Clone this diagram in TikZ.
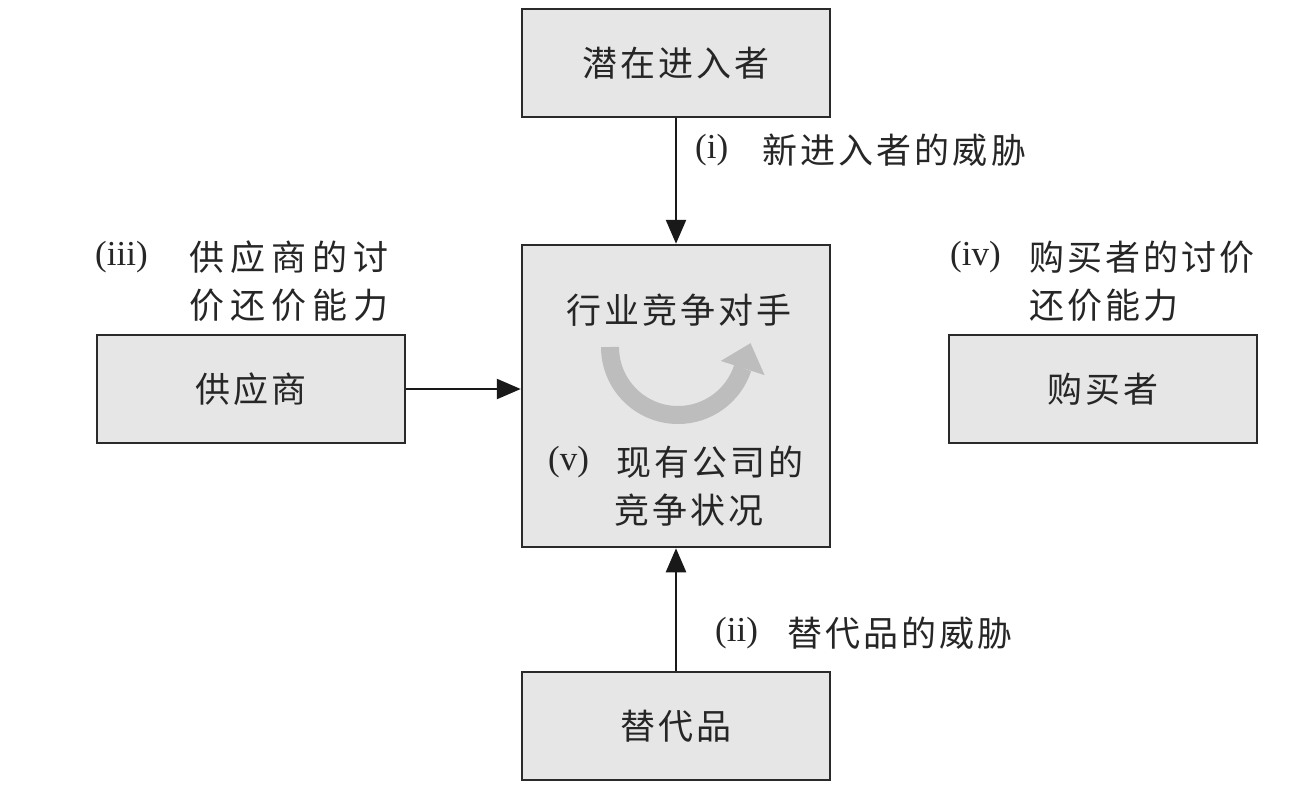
\documentclass[tikz,border=0pt]{standalone}
\usepackage{fontspec}
\setmainfont{Liberation Serif}
\newfontfamily\cjk{Noto Sans CJK SC}[LetterSpace=9]
\newfontfamily\cjkwide{Noto Sans CJK SC}[LetterSpace=17]
\usetikzlibrary{arrows.meta}
\definecolor{boxfill}{HTML}{E6E6E6}
\definecolor{boxline}{HTML}{2A2A2A}
\definecolor{swirl}{HTML}{BDBDBD}
\tikzset{
  box/.style={draw=boxline, line width=2.5pt, fill=boxfill, minimum width=308pt, minimum height=108pt, inner sep=0pt},
  txt/.style={font=\cjk\fontsize{35}{48}\selectfont, text=black!85, inner sep=0pt},
  rom/.style={font=\rmfamily\fontsize{35}{48}\selectfont, text=black!85, inner sep=0pt, anchor=west},
  conn/.style={draw=black!90, line width=2.5pt, -{Triangle[length=24pt,width=20pt]}},
}
\begin{document}
\begin{tikzpicture}[x=1pt,y=-1pt]
\useasboundingbox[fill=white] (0,0) rectangle (1300,793);

% boxes
\node[box] (top) at (676,63) {};
\node[box, minimum height=302pt] (mid) at (676,396) {};
\node[box] (bot) at (676,726) {};
\node[box] (sup) at (251,389) {};
\node[box] (buy) at (1103,389) {};

\node[txt] (toptext) at (top.center) {潜在进入者};
\node[txt] (bottext) at (bot.center) {替代品};
\node[txt] (suptext) at (sup.center) {供应商};
\node[txt] (buytext) at (buy.center) {购买者};

% center contents
\node[txt] (rivals) at (679,310) {行业竞争对手};
\node[rom] (vp) at (548,462) {(v)};
\node[txt, anchor=west] (v1) at (616,462) {现有公司的};
\node[txt, anchor=west] (v2) at (614,510) {竞争状况};

% swirl arrow
\draw[swirl, line width=18pt] (610,347) arc[start angle=180, end angle=18, radius=68];
\fill[swirl] (720.8,360.9) -- (764.6,375.1) -- (750.5,343.2) -- cycle;

% connectors
\draw[conn] (top.south) -- (mid.north);
\draw[conn] (bot.north) -- (mid.south);
\draw[conn] (sup.east) -- (sup.east -| mid.west);

% labels
\node[rom] (li) at (695,150) {(i)};
\node[txt, anchor=west] (lit) at (762,150) {新进入者的威胁};
\node[rom] (lii) at (715,633) {(ii)};
\node[txt, anchor=west] (liit) at (787,633) {替代品的威胁};
\node[rom] (liii) at (95,257) {(iii)};
\node[txt, font=\cjkwide\fontsize{35}{48}\selectfont, anchor=west, align=left] (liiit) at (189,281) {供应商的讨\\价还价能力};
\node[rom] (liv) at (950,257) {(iv)};
\node[txt, anchor=west, align=left] (livt) at (1029,281) {购买者的讨价\\还价能力};
\end{tikzpicture}
\end{document}
